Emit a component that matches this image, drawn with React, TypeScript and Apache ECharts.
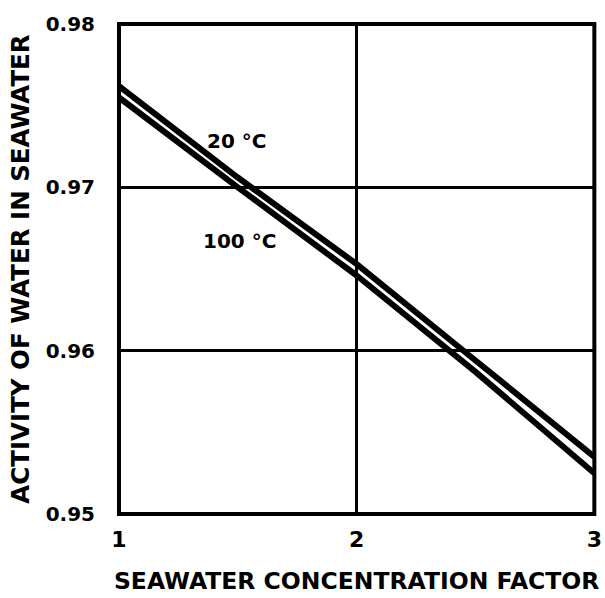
import React, { useEffect, useRef } from "react";
import * as echarts from "echarts";

const concentration = [1, 1.5, 2, 2.5, 3];
const activity20C = [0.9762, 0.9706, 0.9653, 0.9594, 0.9535];
const activity100C = [0.9755, 0.97, 0.9646, 0.9587, 0.9525];
const xTicks = [1, 2, 3];
const yTicks = [0.95, 0.96, 0.97, 0.98];
const seriesNames = ["20 °C", "100 °C"];

export default function App() {
  const ref = useRef<HTMLDivElement>(null);
  useEffect(() => {
    if (!ref.current) return;
    const chart = echarts.init(ref.current, null, { renderer: "svg" });
    const font = "DejaVu Sans";
    chart.setOption({
      animation: false,
      backgroundColor: "#ffffff",
      grid: {
        left: 116,
        right: 5,
        top: 24,
        bottom: 77,
        show: true,
        borderColor: "#000",
        borderWidth: 4,
        backgroundColor: "transparent",
      },
      xAxis: {
        type: "value",
        min: xTicks[0],
        max: xTicks[xTicks.length - 1],
        interval: 1,
        name: "SEAWATER CONCENTRATION FACTOR",
        nameLocation: "middle",
        nameGap: 55,
        nameTextStyle: { fontFamily: font, fontWeight: 900, fontSize: 23.5, color: "#000" },
        axisLine: { show: false },
        axisTick: { show: false },
        axisLabel: {
          fontFamily: font,
          fontWeight: 900,
          fontSize: 22,
          color: "#000",
          margin: 14,
          formatter: (v: number) => String(Math.round(v)),
        },
        splitLine: { show: true, lineStyle: { color: "#000", width: 3 } },
      },
      yAxis: {
        type: "value",
        min: yTicks[0],
        max: yTicks[yTicks.length - 1],
        interval: 0.01,
        name: "ACTIVITY OF WATER IN SEAWATER",
        nameLocation: "middle",
        nameGap: 86,
        nameRotate: 90,
        nameTextStyle: { fontFamily: font, fontWeight: 900, fontSize: 24.5, color: "#000" },
        axisLine: { show: false },
        axisTick: { show: false },
        axisLabel: {
          fontFamily: font,
          fontWeight: 900,
          fontSize: 20,
          color: "#000",
          margin: 24,
          formatter: (v: number) => v.toFixed(2),
        },
        splitLine: { show: true, lineStyle: { color: "#000", width: 3 } },
      },
      graphic: [
        {
          type: "text",
          left: 207,
          top: 131,
          style: { text: seriesNames[0], fontFamily: font, fontWeight: 900, fontSize: 20, fill: "#000" },
        },
        {
          type: "text",
          left: 203,
          top: 231,
          style: { text: seriesNames[1], fontFamily: font, fontWeight: 900, fontSize: 20, fill: "#000" },
        },
      ],
      series: [
        {
          name: seriesNames[0],
          type: "line",
          data: concentration.map((x, i) => [x, activity20C[i]]),
          showSymbol: false,
          symbol: "none",
          lineStyle: { color: "#000", width: 6 },
          z: 5,
        },
        {
          name: seriesNames[1],
          type: "line",
          data: concentration.map((x, i) => [x, activity100C[i]]),
          showSymbol: false,
          symbol: "none",
          lineStyle: { color: "#000", width: 6 },
          z: 5,
        },
      ],
    });
    return () => chart.dispose();
  }, []);
  return (
    <div
      ref={ref}
      style={{ position: "fixed", left: 0, top: 0, width: 605, height: 598, background: "#fff" }}
    />
  );
}
